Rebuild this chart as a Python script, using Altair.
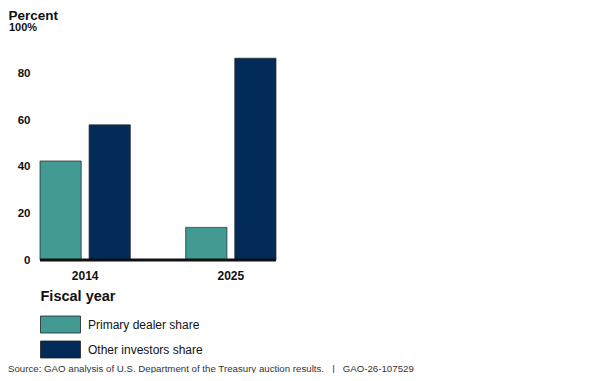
import altair as alt
import pandas as pd

years = ["2014", "2025"]
series = ["Primary dealer share", "Other investors share"]
primary_share = [42.5, 14.0]
other_share = [58.0, 86.6]
colors = ["#439A93", "#022B59"]
y_ticks = [0, 20, 40, 60, 80]
top_label = ["100%"]
top_value = [100]
NB = "\u00a0"
source = "Source: GAO analysis of U.S. Department of the Treasury auction results." + NB * 3 + "|" + NB * 3 + "GAO-26-107529"

rows = []
for i, yr in enumerate(years):
    rows.append({"year": yr, "series": series[0], "value": primary_share[i]})
    rows.append({"year": yr, "series": series[1], "value": other_share[i]})
df = pd.DataFrame(rows)

FONT = "Liberation Sans"
yscale = alt.Scale(domain=[0, 100], nice=False)

x = alt.X(
    "year:N",
    sort=years,
    scale=alt.Scale(paddingInner=0.38, paddingOuter=0),
    axis=alt.Axis(
        title="Fiscal year",
        titleAnchor="start",
        titleAlign="left",
        titleFontSize=14.5,
        titleFontWeight="bold",
        titlePadding=8,
        labelAngle=0,
        labelFontSize=12,
        labelFontWeight="bold",
        labelPadding=10,
        domain=False,
        ticks=False,
        grid=False,
        labelColor="#111",
        titleColor="#111",
    ),
)

y = alt.Y(
    "value:Q",
    scale=yscale,
    axis=alt.Axis(
        title="Percent",
        titleAngle=0,
        titleAlign="left",
        titleBaseline="top",
        titleX=-32,
        titleY=-19,
        titleFontSize=13.5,
        titleFontWeight="bold",
        values=y_ticks,
        labelFontSize=11.5,
        labelFontWeight="bold",
        labelPadding=10,
        domain=False,
        ticks=False,
        grid=False,
        labelColor="#111",
        titleColor="#111",
    ),
)

bars = alt.Chart(df).mark_bar(stroke="#222", strokeWidth=0.7).encode(
    x=x,
    xOffset=alt.XOffset("series:N", sort=series, scale=alt.Scale(paddingInner=0.16, paddingOuter=0)),
    y=y,
    color=alt.Color(
        "series:N",
        sort=series,
        scale=alt.Scale(domain=series, range=colors),
        legend=alt.Legend(
            title=None,
            orient="none",
            legendX=10,
            legendY=287,
            symbolType="M-2,-0.85L2,-0.85L2,0.85L-2,0.85Z",
            symbolSize=400,
            symbolStrokeColor="#222",
            symbolStrokeWidth=0.8,
            symbolOpacity=1,
            labelFontSize=12,
            labelOffset=17,
            labelColor="#111",
            labelFont=FONT,
            rowPadding=4,
        ),
    ),
)

zero = alt.Chart(pd.DataFrame({"v": [0]})).mark_rule(color="#111", strokeWidth=3).encode(
    y=alt.Y("v:Q", scale=yscale)
)

top = alt.Chart(pd.DataFrame({"v": top_value, "t": top_label})).mark_text(
    align="left", baseline="middle", fontSize=11, fontWeight="bold", color="#111", font=FONT, dy=1
).encode(
    y=alt.Y("v:Q", scale=yscale),
    x=alt.value(-31),
    text="t:N",
)

chart = (
    alt.layer(bars, zero, top)
    .properties(
        width=236,
        height=233,
        autosize=alt.AutoSizeParams(type="none"),
        padding={"left": 32, "top": 19, "right": 316, "bottom": 113},
        title=alt.TitleParams(
            text=source,
            orient="bottom",
            anchor="start",
            frame="group",
            fontSize=9.7,
            fontWeight="normal",
            color="#333",
            font=FONT,
            dx=-32,
            dy=4,
            offset=0,
        ),
    )
    .configure(font=FONT)
    .configure_view(stroke="transparent", strokeWidth=0)
)

chart.save("out.html", embed_options={"renderer": "svg", "actions": False})
